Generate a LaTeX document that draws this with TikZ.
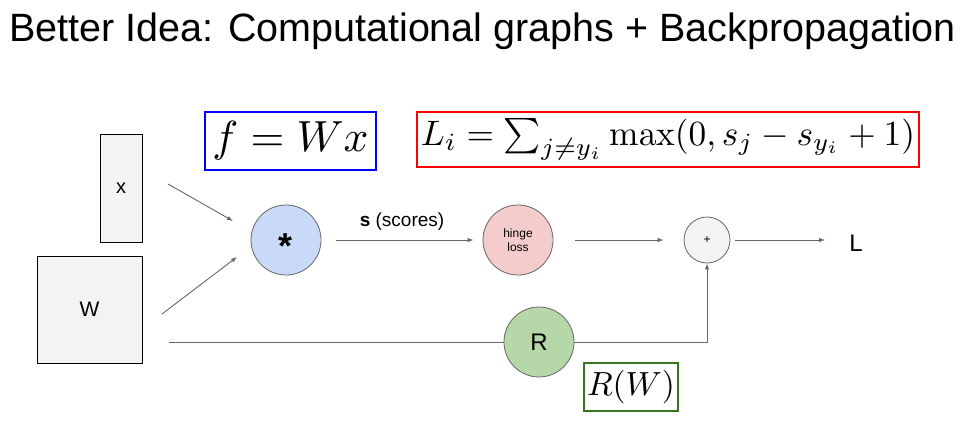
\documentclass[tikz,border=0pt]{standalone}
\usepackage[no-math]{fontspec}
\setmainfont{Liberation Sans}
\usepackage{amsmath}
\usepackage{graphicx}
\usetikzlibrary{arrows.meta}
\definecolor{mulfill}{HTML}{C9DAF8}
\definecolor{hingefill}{HTML}{F4CCCC}
\definecolor{plusfill}{HTML}{F3F3F3}
\definecolor{rfill}{HTML}{B6D7A8}
\definecolor{boxfill}{HTML}{F3F3F3}
\definecolor{edgegray}{HTML}{666666}
\definecolor{fblue}{HTML}{0000FF}
\definecolor{fred}{HTML}{FF0000}
\definecolor{fgreen}{HTML}{38761D}
\tikzset{
  databox/.style={draw=black, line width=0.9pt, fill=boxfill, inner sep=0pt},
  opnode/.style={circle, draw=edgegray, line width=0.8pt, inner sep=0pt, minimum size=70pt},
  conn/.style={draw=edgegray, line width=0.9pt},
  arr/.style={conn, -{Latex[length=6pt,width=4.5pt]}},
  fbox/.style={draw, line width=2pt, fill=white, inner sep=0pt},
  lbl/.style={inner sep=0pt, text=black}
}
\begin{document}
\begin{tikzpicture}[x=1pt,y=-1pt]
\useasboundingbox (0,0) rectangle (966,428);
% title
\node[lbl, anchor=base west] (title) at (9,42) {\fontsize{39.5}{45}\selectfont Better Idea: Computational graphs + Backpropagation};
% formula boxes
\node[fbox, draw=fblue, minimum width=171pt, minimum height=58pt] (fwx) at (290.5,141) {\resizebox{156pt}{!}{$f=Wx$}};
\node[fbox, draw=fred, minimum width=502pt, minimum height=55pt] (loss) at (668,139.5) {\raisebox{1pt}{\resizebox{494pt}{!}{$L_i=\sum_{j\neq y_i}\max(0,s_j-s_{y_i}+1)$}}};
\node[fbox, draw=fgreen, minimum width=94pt, minimum height=48pt] (rw) at (631,387) {\resizebox{88pt}{!}{$R(W)$}};
% data boxes
\node[databox, minimum width=42pt, minimum height=108pt, font=\fontsize{20}{24}\selectfont] (x) at (121,188) {x};
\node[databox, minimum width=105pt, minimum height=107pt, font=\fontsize{21}{24}\selectfont] (W) at (89.5,309.5) {W};
% op nodes
\node[opnode, fill=mulfill, font=\fontsize{36}{40}\selectfont\bfseries] (mul) at (286,240) {\raisebox{-18.5pt}[0pt][0pt]{*}};
\node[opnode, fill=hingefill, align=center, font=\fontsize{12}{14}\selectfont] (hinge) at (518,240) {hinge\\loss};
\node[opnode, fill=plusfill, minimum size=46pt, font=\fontsize{12}{14}\selectfont] (plus) at (707,240) {+};
\node[opnode, fill=rfill, font=\fontsize{24}{28}\selectfont] (R) at (539,342) {R};
\node[lbl, font=\fontsize{24}{28}\selectfont] (L) at (856,243) {L};
% connectors
\coordinate (xa) at (168,184);
\coordinate (xb) at (233,221);
\coordinate (wa) at (162,314);
\coordinate (wb) at (237,257);
\coordinate (wl) at (169,342);
\coordinate (lend) at (825,240);
\draw[arr] (xa) -- (xb);
\draw[arr] (wa) -- (wb);
\draw[arr, shorten <=15pt, shorten >=9pt] (mul) -- (hinge) node[lbl, midway, above=9pt, font=\fontsize{19}{22}\selectfont] (slabel) {\textbf{s} (scores)};
\draw[arr, shorten <=22pt, shorten >=20pt] (hinge) -- (plus);
\draw[arr, shorten <=5pt] (plus) -- (lend);
\draw[conn] (wl) -- (R);
\draw[arr] (R) -| (plus);
\end{tikzpicture}
\end{document}
